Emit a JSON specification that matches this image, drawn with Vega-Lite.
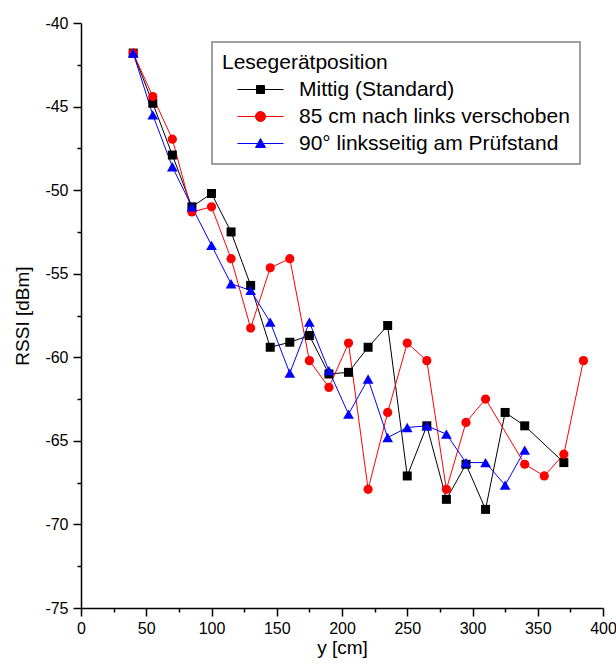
{
  "$schema": "https://vega.github.io/schema/vega-lite/v6.json",
  "autosize": "none",
  "width": 522,
  "height": 585,
  "padding": {"left": 81, "top": 23, "right": 13, "bottom": 56},
  "background": "white",
  "config": {
    "view": {"stroke": null},
    "font": "Liberation Sans",
    "axis": {
      "grid": false,
      "domainColor": "black",
      "domainWidth": 1.5,
      "tickColor": "black",
      "tickWidth": 1.5,
      "labelColor": "black",
      "labelFont": "Liberation Sans",
      "labelFontSize": 16,
      "titleFont": "Liberation Sans",
      "titleFontSize": 19,
      "titleFontWeight": "normal",
      "titleColor": "black",
      "labelOverlap": false,
      "labelFlush": false
    },
    "legend": {
      "orient": "none",
      "legendX": 131,
      "legendY": 19,
      "strokeColor": "#808080",
      "strokeWidth": 1.5,
      "padding": 10,
      "titleFont": "Liberation Sans",
      "titleFontSize": 21,
      "titleFontWeight": "normal",
      "titleColor": "black",
      "titlePadding": 6,
      "labelFont": "Liberation Sans",
      "labelFontSize": 21,
      "labelColor": "black",
      "labelLimit": 400,
      "symbolSize": 400,
      "symbolStrokeWidth": 1,
      "symbolOffset": 28,
      "labelOffset": 28,
      "rowPadding": 5
    }
  },
  "data": {
    "values": [
      {"series": "Mittig (Standard)", "x": 40, "rssi": -41.8},
      {"series": "Mittig (Standard)", "x": 55, "rssi": -44.8},
      {"series": "Mittig (Standard)", "x": 70, "rssi": -47.9},
      {"series": "Mittig (Standard)", "x": 85, "rssi": -51.0},
      {"series": "Mittig (Standard)", "x": 100, "rssi": -50.2},
      {"series": "Mittig (Standard)", "x": 115, "rssi": -52.5},
      {"series": "Mittig (Standard)", "x": 130, "rssi": -55.7},
      {"series": "Mittig (Standard)", "x": 145, "rssi": -59.4},
      {"series": "Mittig (Standard)", "x": 160, "rssi": -59.1},
      {"series": "Mittig (Standard)", "x": 175, "rssi": -58.7},
      {"series": "Mittig (Standard)", "x": 190, "rssi": -61.0},
      {"series": "Mittig (Standard)", "x": 205, "rssi": -60.9},
      {"series": "Mittig (Standard)", "x": 220, "rssi": -59.4},
      {"series": "Mittig (Standard)", "x": 235, "rssi": -58.1},
      {"series": "Mittig (Standard)", "x": 250, "rssi": -67.1},
      {"series": "Mittig (Standard)", "x": 265, "rssi": -64.1},
      {"series": "Mittig (Standard)", "x": 280, "rssi": -68.5},
      {"series": "Mittig (Standard)", "x": 295, "rssi": -66.4},
      {"series": "Mittig (Standard)", "x": 310, "rssi": -69.1},
      {"series": "Mittig (Standard)", "x": 325, "rssi": -63.3},
      {"series": "Mittig (Standard)", "x": 340, "rssi": -64.1},
      {"series": "Mittig (Standard)", "x": 370, "rssi": -66.3},
      {"series": "85 cm nach links verschoben", "x": 40, "rssi": -41.8},
      {"series": "85 cm nach links verschoben", "x": 55, "rssi": -44.4},
      {"series": "85 cm nach links verschoben", "x": 70, "rssi": -46.95},
      {"series": "85 cm nach links verschoben", "x": 85, "rssi": -51.3},
      {"series": "85 cm nach links verschoben", "x": 100, "rssi": -51.0},
      {"series": "85 cm nach links verschoben", "x": 115, "rssi": -54.1},
      {"series": "85 cm nach links verschoben", "x": 130, "rssi": -58.25},
      {"series": "85 cm nach links verschoben", "x": 145, "rssi": -54.65},
      {"series": "85 cm nach links verschoben", "x": 160, "rssi": -54.1},
      {"series": "85 cm nach links verschoben", "x": 175, "rssi": -60.2},
      {"series": "85 cm nach links verschoben", "x": 190, "rssi": -61.8},
      {"series": "85 cm nach links verschoben", "x": 205, "rssi": -59.15},
      {"series": "85 cm nach links verschoben", "x": 220, "rssi": -67.9},
      {"series": "85 cm nach links verschoben", "x": 235, "rssi": -63.3},
      {"series": "85 cm nach links verschoben", "x": 250, "rssi": -59.15},
      {"series": "85 cm nach links verschoben", "x": 265, "rssi": -60.2},
      {"series": "85 cm nach links verschoben", "x": 280, "rssi": -67.9},
      {"series": "85 cm nach links verschoben", "x": 295, "rssi": -63.9},
      {"series": "85 cm nach links verschoben", "x": 310, "rssi": -62.5},
      {"series": "85 cm nach links verschoben", "x": 340, "rssi": -66.4},
      {"series": "85 cm nach links verschoben", "x": 355, "rssi": -67.1},
      {"series": "85 cm nach links verschoben", "x": 370, "rssi": -65.8},
      {"series": "85 cm nach links verschoben", "x": 385, "rssi": -60.2},
      {"series": "90° linksseitig am Prüfstand", "x": 40, "rssi": -41.8},
      {"series": "90° linksseitig am Prüfstand", "x": 55, "rssi": -45.5},
      {"series": "90° linksseitig am Prüfstand", "x": 70, "rssi": -48.6},
      {"series": "90° linksseitig am Prüfstand", "x": 85, "rssi": -51.0},
      {"series": "90° linksseitig am Prüfstand", "x": 100, "rssi": -53.3},
      {"series": "90° linksseitig am Prüfstand", "x": 115, "rssi": -55.6},
      {"series": "90° linksseitig am Prüfstand", "x": 130, "rssi": -56.0},
      {"series": "90° linksseitig am Prüfstand", "x": 145, "rssi": -57.9},
      {"series": "90° linksseitig am Prüfstand", "x": 160, "rssi": -60.95},
      {"series": "90° linksseitig am Prüfstand", "x": 175, "rssi": -57.9},
      {"series": "90° linksseitig am Prüfstand", "x": 190, "rssi": -60.8},
      {"series": "90° linksseitig am Prüfstand", "x": 205, "rssi": -63.4},
      {"series": "90° linksseitig am Prüfstand", "x": 220, "rssi": -61.3},
      {"series": "90° linksseitig am Prüfstand", "x": 235, "rssi": -64.8},
      {"series": "90° linksseitig am Prüfstand", "x": 250, "rssi": -64.2},
      {"series": "90° linksseitig am Prüfstand", "x": 265, "rssi": -64.1},
      {"series": "90° linksseitig am Prüfstand", "x": 280, "rssi": -64.6},
      {"series": "90° linksseitig am Prüfstand", "x": 295, "rssi": -66.3},
      {"series": "90° linksseitig am Prüfstand", "x": 310, "rssi": -66.3},
      {"series": "90° linksseitig am Prüfstand", "x": 325, "rssi": -67.65},
      {"series": "90° linksseitig am Prüfstand", "x": 340, "rssi": -65.55}
    ]
  },
  "encoding": {
    "x": {
      "field": "x", "type": "quantitative",
      "scale": {"domain": [0, 400], "nice": false, "zero": false},
      "axis": {
        "title": "y [cm]",
        "values": [0,25,50,75,100,125,150,175,200,225,250,275,300,325,350,375,400],
        "labelExpr": "datum.value % 50 === 0 ? datum.label : ''",
        "tickSize": {"condition": {"test": "datum.value % 50 === 0", "value": 8}, "value": 4},
        "labelPadding": 4,
        "titlePadding": 2
      }
    },
    "y": {
      "field": "rssi", "type": "quantitative",
      "scale": {"domain": [-75, -40], "nice": false, "zero": false},
      "axis": {
        "title": "RSSI [dBm]",
        "values": [-75,-72.5,-70,-67.5,-65,-62.5,-60,-57.5,-55,-52.5,-50,-47.5,-45,-42.5,-40],
        "labelExpr": "datum.value % 5 === 0 ? '' + datum.value : ''",
        "tickSize": {"condition": {"test": "datum.value % 5 === 0", "value": 8}, "value": 4},
        "labelPadding": 5,
        "titlePadding": 12
      }
    }
  },
  "layer": [
    {
      "mark": {"type": "line", "strokeWidth": 1},
      "encoding": {
        "stroke": {
          "field": "series", "type": "nominal", "title": "Lesegerätposition",
          "scale": {"domain": ["Mittig (Standard)", "85 cm nach links verschoben", "90° linksseitig am Prüfstand"], "range": ["#000000", "#ff0000", "#0000ff"]}
        }
      }
    },
    {
      "transform": [{"filter": "datum.series === 'Mittig (Standard)'"}],
      "mark": {"type": "point", "shape": "square", "filled": true, "size": 81, "opacity": 1, "strokeWidth": 0},
      "encoding": {
        "fill": {"field": "series", "type": "nominal", "title": "Lesegerätposition",
          "scale": {"domain": ["Mittig (Standard)", "85 cm nach links verschoben", "90° linksseitig am Prüfstand"], "range": ["#000000", "#ff0000", "#0000ff"]}}
      }
    },
    {
      "transform": [{"filter": "datum.series === '85 cm nach links verschoben'"}],
      "mark": {"type": "point", "shape": "circle", "filled": true, "size": 85, "opacity": 1, "strokeWidth": 0},
      "encoding": {
        "fill": {"field": "series", "type": "nominal", "title": "Lesegerätposition"}
      }
    },
    {
      "transform": [{"filter": "datum.series === '90° linksseitig am Prüfstand'"}],
      "mark": {"type": "point", "shape": "triangle-up", "filled": true, "size": 115, "opacity": 1, "strokeWidth": 0},
      "encoding": {
        "fill": {"field": "series", "type": "nominal", "title": "Lesegerätposition"}
      }
    },
    {
      "transform": [{"filter": "datum.x < 0"}],
      "mark": {"type": "point", "filled": true, "opacity": 1, "strokeWidth": 1},
      "encoding": {
        "fill": {"field": "series", "type": "nominal", "title": "Lesegerätposition"},
        "stroke": {"field": "series", "type": "nominal", "title": "Lesegerätposition"},
        "shape": {
          "field": "series", "type": "nominal", "title": "Lesegerätposition",
          "scale": {
            "domain": ["Mittig (Standard)", "85 cm nach links verschoben", "90° linksseitig am Prüfstand"],
            "range": [
              "M-2.3,0H2.3M-0.4,-0.4H0.4V0.4H-0.4Z",
              "M-2.3,0H2.3M-0.5,0A0.5,0.5,0,1,1,0.5,0A0.5,0.5,0,1,1,-0.5,0Z",
              "M-2.3,0H2.3M0,-0.5L0.5,0.4L-0.5,0.4Z"
            ]
          }
        }
      }
    }
  ]
}
